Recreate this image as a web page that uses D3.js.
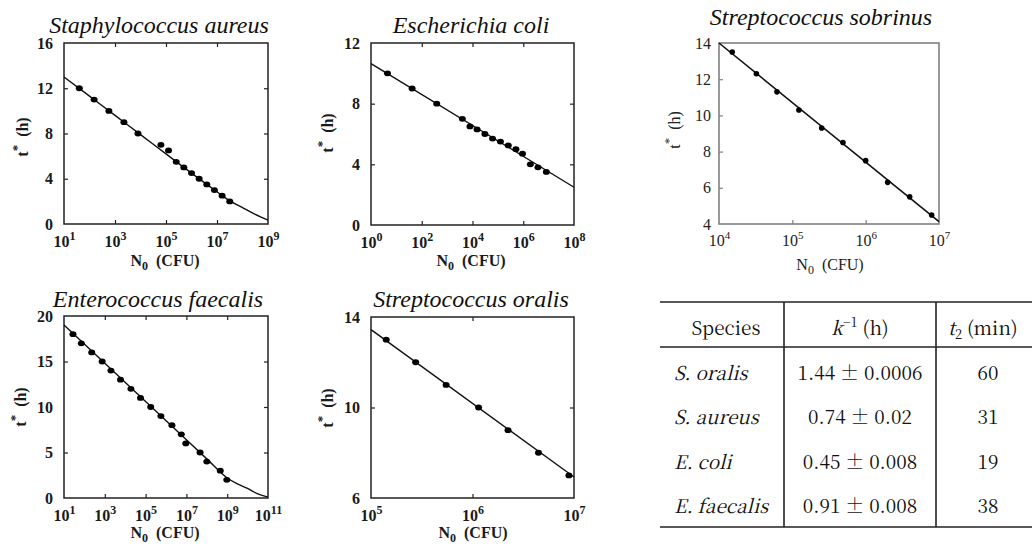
<!DOCTYPE html>
<html>
<head>
<meta charset="utf-8">
<script src="https://cdn.jsdelivr.net/npm/d3@7"></script>
<style>
  body { margin: 0; background: #fff; }
  svg { display: block; }
</style>
</head>
<body>
<svg id="chart" width="1032" height="547"></svg>
<script>
// Staphylococcus aureus
const aureusLogN = [1.6, 2.18, 2.76, 3.35, 3.9, 4.8, 5.1, 5.4, 5.7, 6.0, 6.3, 6.6, 6.9, 7.2, 7.5];
const aureusT = [12, 11, 10, 9, 8, 7, 6.5, 5.5, 5, 4.5, 4, 3.5, 3, 2.5, 2];
const aureusFitLogN = [1, 2, 3, 4, 5, 6, 7, 7.5, 8, 8.5, 9];
const aureusFitT = [13.0, 11.3, 9.6, 7.9, 6.2, 4.5, 2.85, 2.05, 1.45, 0.85, 0.35];
const aureusXTicks = [1, 3, 5, 7, 9];
const aureusYTicks = [0, 4, 8, 12, 16];

// Escherichia coli
const coliLogN = [0.65, 1.62, 2.59, 3.6, 3.9, 4.18, 4.49, 4.79, 5.1, 5.41, 5.71, 5.97, 6.28, 6.58, 6.91];
const coliT = [10, 9, 8, 7, 6.5, 6.3, 6, 5.7, 5.5, 5.25, 5, 4.7, 4, 3.8, 3.5];
const coliFitLogN = [0, 8];
const coliFitT = [10.64, 2.49];
const coliXTicks = [0, 2, 4, 6, 8];
const coliYTicks = [0, 4, 8, 12];

// Streptococcus sobrinus
const sobrinusLogN = [4.18, 4.51, 4.79, 5.09, 5.4, 5.69, 6.0, 6.3, 6.6, 6.9];
const sobrinusT = [13.5, 12.3, 11.3, 10.3, 9.3, 8.5, 7.5, 6.3, 5.5, 4.5];
const sobrinusFitLogN = [4, 7];
const sobrinusFitT = [14.0, 4.13];
const sobrinusXTicks = [4, 5, 6, 7];
const sobrinusYTicks = [4, 6, 8, 10, 12, 14];

// Enterococcus faecalis
const faecalisLogN = [1.44, 1.85, 2.36, 2.87, 3.3, 3.77, 4.28, 4.75, 5.25, 5.75, 6.29, 6.75, 6.97, 7.67, 8.0, 8.66, 8.98];
const faecalisT = [18, 17, 16, 15, 14, 13, 12, 11, 10, 9, 8, 7, 6, 5, 4, 3, 2];
const faecalisFitLogN = [1, 3, 5, 7, 8, 9, 9.5, 10, 10.5, 11];
const faecalisFitT = [19.0, 14.8, 10.6, 6.4, 4.3, 2.2, 1.55, 1.05, 0.45, 0.1];
const faecalisXTicks = [1, 3, 5, 7, 9, 11];
const faecalisYTicks = [0, 5, 10, 15, 20];

// Streptococcus oralis
const oralisLogN = [5.15, 5.44, 5.74, 6.06, 6.35, 6.65, 6.95];
const oralisT = [13, 12, 11, 10, 9, 8, 7];
const oralisFitLogN = [5, 7];
const oralisFitT = [13.44, 6.93];
const oralisXTicks = [5, 6, 7];
const oralisYTicks = [6, 10, 14];

// table
const tableSpecies = ["S. oralis", "S. aureus", "E. coli", "E. faecalis"];
const tableK = ["1.44 ± 0.0006", "0.74 ± 0.02", "0.45 ± 0.008", "0.91 ± 0.008"];
const tableT2 = ["60", "31", "19", "38"];

const SERIF = '"Liberation Serif"';
const TABLE_FONT = '"Noto Serif CJK SC"';

// set font on a selection through inline style only
function font(sel, size, weight, style, family) {
    return sel.attr("font-family", null).attr("font-size", null).attr("font-weight", null)
        .style("font-family", family || SERIF)
        .style("font-size", size + "px")
        .style("font-weight", weight || "normal")
        .style("font-style", style || "normal");
}

const svg = d3.select("#chart");
svg.append("rect").attr("width", 1032).attr("height", 547).attr("fill", "#fff");

const panels = [
    { title: "Staphylococcus aureus", titleX: 159, titleY: 33, box: [64, 268, 43, 224],
      logN: aureusLogN, t: aureusT, fitLogN: aureusFitLogN, fitT: aureusFitT,
      xTicks: aureusXTicks, yTicks: aureusYTicks, ylab: [28, 137], xlab: [165, 266] },
    { title: "Escherichia coli", titleX: 471, titleY: 33, box: [371, 574, 43, 225],
      logN: coliLogN, t: coliT, fitLogN: coliFitLogN, fitT: coliFitT,
      xTicks: coliXTicks, yTicks: coliYTicks, ylab: [333, 133], xlab: [471, 266] },
    { title: "Streptococcus sobrinus", titleX: 821, titleY: 25, box: [719, 939, 43, 224],
      logN: sobrinusLogN, t: sobrinusT, fitLogN: sobrinusFitLogN, fitT: sobrinusFitT,
      xTicks: sobrinusXTicks, yTicks: sobrinusYTicks, ylab: [680, 130], xlab: [830, 270], light: true },
    { title: "Enterococcus faecalis", titleX: 158, titleY: 307, box: [64, 268, 316, 498],
      logN: faecalisLogN, t: faecalisT, fitLogN: faecalisFitLogN, fitT: faecalisFitT,
      xTicks: faecalisXTicks, yTicks: faecalisYTicks, ylab: [26, 407], xlab: [165, 538] },
    { title: "Streptococcus oralis", titleX: 471, titleY: 307, box: [371, 574, 317, 498],
      logN: oralisLogN, t: oralisT, fitLogN: oralisFitLogN, fitT: oralisFitT,
      xTicks: oralisXTicks, yTicks: oralisYTicks, ylab: [333, 408], xlab: [473, 538] }
];

function drawPanel(p) {
    const [x0, x1, y0, y1] = p.box;
    const xExp = d3.extent(p.xTicks);
    const yDom = d3.extent(p.yTicks);
    const x = d3.scaleLog().domain([10 ** xExp[0], 10 ** xExp[1]]).range([x0, x1]);
    const y = d3.scaleLinear().domain(yDom).range([y1, y0]);

    const ink = p.light ? "#808080" : "#222";
    const weight = p.light ? "normal" : "bold";
    const textFill = p.light ? "#222" : "#1a1a1a";
    const g = svg.append("g");

    // title
    font(g.append("text"), 24, "normal", "italic")
        .attr("x", p.titleX).attr("y", p.titleY)
        .attr("text-anchor", "middle")
        .attr("fill", "#111")
        .text(p.title);

    const xInner = p.xTicks.slice(1, -1).map(e => 10 ** e);
    const yInner = p.yTicks.slice(1, -1);

    // bottom axis with 10^n labels
    const bottom = g.append("g")
        .attr("transform", `translate(0,${y1})`)
        .call(d3.axisBottom(x).tickValues(p.xTicks.map(e => 10 ** e)).tickSize(-4).tickPadding(p.light ? 11 : 12));
    // left axis
    const left = g.append("g")
        .attr("transform", `translate(${x0},0)`)
        .call(d3.axisLeft(y).tickValues(p.yTicks).tickSize(-4).tickPadding(p.light ? 8 : 11).tickFormat(d3.format("d")));

    [bottom, left].forEach(a => {
        a.select(".domain").remove();
        font(a, 16, weight);
        font(a.selectAll(".tick text"), 16, weight).attr("fill", textFill);
        a.selectAll(".tick line").attr("stroke", ink).attr("stroke-width", 1.2)
            .filter(d => (d === 10 ** xExp[0] || d === 10 ** xExp[1] || d === yDom[0] || d === yDom[1]))
            .remove();
    });

    bottom.selectAll(".tick text").each(function (d) {
        const t = d3.select(this);
        t.text(null);
        font(t.append("tspan"), 16, weight).text("10");
        font(t.append("tspan"), p.light ? 11 : 12, weight).attr("dy", -7)
            .text(Math.round(Math.log10(d)));
    });

    // mirrored ticks on top and right
    if (!p.light) {
        const top = g.append("g").attr("transform", `translate(0,${y0})`)
            .call(d3.axisTop(x).tickValues(xInner).tickSize(-4).tickFormat(""));
        const right = g.append("g").attr("transform", `translate(${x1},0)`)
            .call(d3.axisRight(y).tickValues(yInner).tickSize(-4).tickFormat(""));
        [top, right].forEach(a => {
            a.select(".domain").remove();
            a.selectAll(".tick line").attr("stroke", ink).attr("stroke-width", 1.2);
        });
    }

    // frame
    g.append("rect")
        .attr("x", x0).attr("y", y0)
        .attr("width", x1 - x0).attr("height", y1 - y0)
        .attr("fill", "none").attr("stroke", ink).attr("stroke-width", p.light ? 1.6 : 1.5);

    // fitted curve
    const line = d3.line()
        .x(d => x(10 ** d[0]))
        .y(d => y(d[1]))
        .curve(d3.curveMonotoneX);
    g.append("path")
        .datum(d3.zip(p.fitLogN, p.fitT))
        .attr("fill", "none").attr("stroke", "#111")
        .attr("stroke-width", p.light ? 1.6 : 1.4)
        .attr("d", line);

    // data points
    g.selectAll("ellipse.pt")
        .data(d3.zip(p.logN, p.t))
        .enter().append("ellipse")
        .attr("class", "pt")
        .attr("cx", d => x(10 ** d[0]))
        .attr("cy", d => y(d[1]))
        .attr("rx", p.light ? 2.8 : 3.5)
        .attr("ry", p.light ? 2.8 : 2.9)
        .attr("fill", "#000");

    // x label
    const xl = font(g.append("text"), 16, weight)
        .attr("x", p.xlab[0]).attr("y", p.xlab[1])
        .attr("text-anchor", "middle").attr("fill", textFill);
    font(xl.append("tspan"), 16, weight).text("N");
    font(xl.append("tspan"), 12, weight).attr("dy", 4).text("0");
    font(xl.append("tspan"), 16, weight).attr("dy", -4).text("\u00a0\u00a0(CFU)");

    // y label
    const yl = font(g.append("text"), 16, weight)
        .attr("transform", `translate(${p.ylab[0]},${p.ylab[1]}) rotate(-90)`)
        .attr("text-anchor", "middle").attr("fill", textFill);
    font(yl.append("tspan"), 16, weight).text("t");
    font(yl.append("tspan"), 13, weight).attr("dy", -7).text("*");
    font(yl.append("tspan"), 16, weight).attr("dy", 7).text("\u00a0\u00a0(h)");
}

panels.forEach(drawPanel);

// table
function drawTable() {
    const g = svg.append("g").attr("fill", "#111");
    const top = 302, headLine = 347, bottomLine = 527;
    const left = 660, right = 1032, v1 = 784, v2 = 936;
    const row = d3.scalePoint().domain(tableSpecies).range([380, 513]);

    [top, headLine, bottomLine].forEach(yy => {
        g.append("line").attr("x1", left).attr("x2", right).attr("y1", yy).attr("y2", yy)
            .attr("stroke", "#222").attr("stroke-width", 1.6);
    });
    [v1, v2].forEach(xx => {
        g.append("line").attr("x1", xx).attr("x2", xx).attr("y1", top).attr("y2", bottomLine)
            .attr("stroke", "#222").attr("stroke-width", 1.6);
    });

    const txt = (sel, size, st) => font(sel, size || 19, "normal", st, TABLE_FONT);

    // header
    txt(g.append("text")).attr("x", 726).attr("y", 335).attr("text-anchor", "middle").text("Species");
    const hk = txt(g.append("text")).attr("x", 860).attr("y", 335).attr("text-anchor", "middle");
    txt(hk.append("tspan"), 19, "italic").text("k");
    txt(hk.append("tspan"), 13).attr("dy", -8).text("\u22121");
    txt(hk.append("tspan"), 19).attr("dy", 8).text("\u00a0(h)");
    const ht = txt(g.append("text")).attr("x", 948).attr("y", 335);
    txt(ht.append("tspan"), 19, "italic").text("t");
    txt(ht.append("tspan"), 13).attr("dy", 4).text("2");
    txt(ht.append("tspan"), 19).attr("dy", -4).text("\u00a0(min)");

    // rows
    txt(g.selectAll("text.sp").data(tableSpecies).enter().append("text"), 19, "italic")
        .attr("class", "sp").attr("x", 674).attr("y", d => row(d))
        .text(d => d.replace(". ", ".\u00a0"));
    txt(g.selectAll("text.kv").data(tableK).enter().append("text"))
        .attr("class", "kv").attr("x", 860).attr("y", (d, i) => row(tableSpecies[i]))
        .attr("text-anchor", "middle").text(d => d);
    txt(g.selectAll("text.t2").data(tableT2).enter().append("text"))
        .attr("class", "t2").attr("x", 988).attr("y", (d, i) => row(tableSpecies[i]))
        .attr("text-anchor", "middle").text(d => d);
}

drawTable();
</script>
</body>
</html>
